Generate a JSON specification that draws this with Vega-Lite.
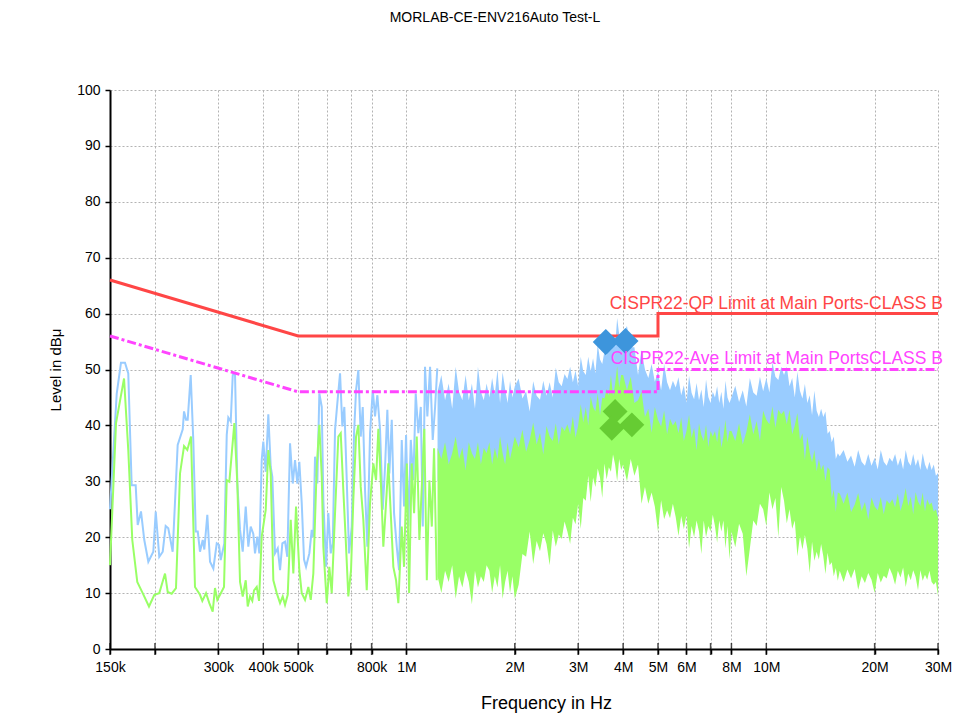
{
"$schema": "https://vega.github.io/schema/vega-lite/v6.json",
"width": 828, "height": 559,
"autosize": {"type": "none"},
"padding": {"left": 110, "top": 90, "right": 28, "bottom": 67},
"background": "white",
"title": {"text": "MORLAB-CE-ENV216Auto Test-L", "fontSize": 14, "fontWeight": "normal", "font": "Liberation Sans", "color": "#000", "anchor": "middle", "offset": 58, "dx": -29},
"datasets": {
"pk": [
{"f":0.15,"v":25},{"f":0.1566,"v":45.7},{"f":0.1609,"v":51.2},{"f":0.1651,"v":51.2},{"f":0.1686,"v":49.3},{"f":0.1723,"v":29.3},{"f":0.1768,"v":29.3},{"f":0.1791,"v":22.2},{"f":0.1829,"v":24.6},{"f":0.1868,"v":19.5},{"f":0.1917,"v":15.6},{"f":0.1979,"v":17.4},{"f":0.201,"v":24.6},{"f":0.2056,"v":16.5},{"f":0.2102,"v":17.4},{"f":0.2142,"v":22},{"f":0.2178,"v":21.6},{"f":0.224,"v":17.4},{"f":0.2313,"v":36.5},{"f":0.2389,"v":39.3},{"f":0.2409,"v":42.5},{"f":0.244,"v":41},{"f":0.2466,"v":41},{"f":0.2514,"v":49},{"f":0.2556,"v":37.4},{"f":0.2596,"v":21},{"f":0.263,"v":21},{"f":0.2668,"v":17.4},{"f":0.2715,"v":19.5},{"f":0.2743,"v":17.8},{"f":0.2796,"v":24},{"f":0.2845,"v":15.6},{"f":0.2906,"v":14.4},{"f":0.297,"v":18.9},{"f":0.3014,"v":18.6},{"f":0.3046,"v":15.9},{"f":0.3117,"v":18.9},{"f":0.3166,"v":38.3},{"f":0.3198,"v":41.4},{"f":0.3248,"v":40.7},{"f":0.329,"v":49},{"f":0.3338,"v":49.3},{"f":0.3388,"v":29.6},{"f":0.3447,"v":21.3},{"f":0.3507,"v":17.4},{"f":0.3575,"v":25.5},{"f":0.3635,"v":18.3},{"f":0.3691,"v":21.9},{"f":0.3753,"v":20.6},{"f":0.3794,"v":17.1},{"f":0.385,"v":20.1},{"f":0.39,"v":17.1},{"f":0.396,"v":33.8},{"f":0.4001,"v":37.1},{"f":0.4063,"v":31.7},{"f":0.4131,"v":42},{"f":0.4195,"v":32.6},{"f":0.4238,"v":30.8},{"f":0.4312,"v":17.1},{"f":0.4388,"v":18},{"f":0.4453,"v":14.1},{"f":0.4519,"v":18.9},{"f":0.4597,"v":19.2},{"f":0.4665,"v":16.5},{"f":0.4747,"v":36.8},{"f":0.483,"v":29.6},{"f":0.4901,"v":33.8},{"f":0.4974,"v":29.6},{"f":0.5038,"v":33.5},{"f":0.5116,"v":26.1},{"f":0.5192,"v":16},{"f":0.5259,"v":14.7},{"f":0.5371,"v":17.1},{"f":0.5454,"v":21.3},{"f":0.551,"v":20},{"f":0.557,"v":34.4},{"f":0.5653,"v":29.6},{"f":0.5726,"v":45.7},{"f":0.5815,"v":43.3},{"f":0.5874,"v":26.7},{"f":0.5977,"v":14.7},{"f":0.6065,"v":24.3},{"f":0.6159,"v":17.1},{"f":0.6239,"v":18.9},{"f":0.6331,"v":39.2},{"f":0.6425,"v":44},{"f":0.6537,"v":49.3},{"f":0.6634,"v":39.8},{"f":0.6719,"v":43.3},{"f":0.6824,"v":30.2},{"f":0.6925,"v":17.1},{"f":0.7045,"v":21.9},{"f":0.715,"v":38.6},{"f":0.7242,"v":46.3},{"f":0.7349,"v":49.9},{"f":0.7463,"v":38},{"f":0.7559,"v":43.3},{"f":0.7671,"v":28.4},{"f":0.7785,"v":18.3},{"f":0.7921,"v":38.6},{"f":0.8059,"v":46.3},{"f":0.8178,"v":41.6},{"f":0.83,"v":45.4},{"f":0.8444,"v":39.2},{"f":0.8592,"v":24.9},{"f":0.8719,"v":32.6},{"f":0.8848,"v":42.8},{"f":0.8962,"v":31.4},{"f":0.9101,"v":41},{"f":0.9236,"v":24.3},{"f":0.9397,"v":18.3},{"f":0.9536,"v":14.1},{"f":0.9702,"v":37.4},{"f":0.9846,"v":25.5},{"f":0.9973,"v":38.3},{"f":1.012,"v":21.9},{"f":1.028,"v":37.4},{"f":1.045,"v":30.2},{"f":1.061,"v":45.7},{"f":1.079,"v":38.6},{"f":1.096,"v":43.3},{"f":1.11,"v":21.9},{"f":1.126,"v":50.5},{"f":1.143,"v":41.6},{"f":1.163,"v":50.5},{"f":1.183,"v":37.4},{"f":1.201,"v":43.3},{"f":1.218,"v":50.2}
],
"av": [
{"f":0.15,"v":15},{"f":0.1559,"v":40.4},{"f":0.1641,"v":48.4},{"f":0.1686,"v":35.6},{"f":0.173,"v":19.5},{"f":0.1786,"v":12},{"f":0.1849,"v":10},{"f":0.1925,"v":7.6},{"f":0.1992,"v":9.7},{"f":0.2056,"v":10},{"f":0.2133,"v":13.5},{"f":0.217,"v":10.2},{"f":0.2226,"v":9.9},{"f":0.2288,"v":10.9},{"f":0.2348,"v":31.4},{"f":0.2409,"v":36.3},{"f":0.246,"v":35.6},{"f":0.2519,"v":38},{"f":0.2584,"v":11.1},{"f":0.2668,"v":9.7},{"f":0.2708,"v":8.6},{"f":0.2773,"v":10},{"f":0.2832,"v":8.2},{"f":0.2894,"v":6.7},{"f":0.2937,"v":10.9},{"f":0.2981,"v":8.8},{"f":0.3033,"v":9.7},{"f":0.3111,"v":11.1},{"f":0.3166,"v":30.2},{"f":0.3219,"v":29.9},{"f":0.3324,"v":40.4},{"f":0.3388,"v":29.6},{"f":0.3447,"v":12},{"f":0.3507,"v":9.4},{"f":0.3575,"v":12.3},{"f":0.3621,"v":7.6},{"f":0.3675,"v":9.4},{"f":0.3729,"v":8.6},{"f":0.377,"v":10.5},{"f":0.3836,"v":11.1},{"f":0.3893,"v":8.6},{"f":0.396,"v":20.1},{"f":0.4063,"v":24.9},{"f":0.4131,"v":35.6},{"f":0.4195,"v":31.4},{"f":0.4266,"v":12.3},{"f":0.436,"v":10},{"f":0.4453,"v":8.2},{"f":0.453,"v":9.4},{"f":0.4597,"v":7.9},{"f":0.4677,"v":9.7},{"f":0.4768,"v":23.1},{"f":0.4848,"v":13.5},{"f":0.4933,"v":25.5},{"f":0.5038,"v":14.1},{"f":0.5116,"v":10},{"f":0.5225,"v":8.8},{"f":0.5337,"v":11.1},{"f":0.542,"v":8.8},{"f":0.551,"v":13.5},{"f":0.5631,"v":32.6},{"f":0.5726,"v":40.1},{"f":0.5815,"v":30.8},{"f":0.5874,"v":18.3},{"f":0.6004,"v":8.2},{"f":0.6104,"v":14.7},{"f":0.6199,"v":10},{"f":0.6331,"v":24.3},{"f":0.6466,"v":38},{"f":0.6566,"v":38.6},{"f":0.6676,"v":28.4},{"f":0.678,"v":19.5},{"f":0.6893,"v":9.4},{"f":0.7013,"v":14.1},{"f":0.7117,"v":26.7},{"f":0.7242,"v":38},{"f":0.7349,"v":40.1},{"f":0.7463,"v":29},{"f":0.7588,"v":23.1},{"f":0.7755,"v":10.5},{"f":0.7921,"v":26.1},{"f":0.809,"v":33.2},{"f":0.8231,"v":30.2},{"f":0.8353,"v":39.4},{"f":0.8498,"v":29},{"f":0.8624,"v":18.3},{"f":0.8775,"v":26.1},{"f":0.8905,"v":33.2},{"f":0.9043,"v":24.3},{"f":0.9194,"v":14.7},{"f":0.9355,"v":12.3},{"f":0.9493,"v":8.2},{"f":0.9702,"v":21.9},{"f":0.9846,"v":14.7},{"f":1.002,"v":33.2},{"f":1.017,"v":10},{"f":1.034,"v":33.2},{"f":1.05,"v":24.3},{"f":1.068,"v":38},{"f":1.086,"v":19.5},{"f":1.103,"v":29},{"f":1.121,"v":39.4},{"f":1.139,"v":12.3},{"f":1.158,"v":30.2},{"f":1.176,"v":21.9},{"f":1.193,"v":35.9},{"f":1.214,"v":12.3}
],
"dense": [
{"f":1.22,"ph":46,"pl":30,"ah":36,"al":13},{"f":1.25,"ph":49,"pl":30,"ah":34,"al":10},{"f":1.28,"ph":44.5,"pl":30,"ah":37,"al":14},{"f":1.31,"ph":47.5,"pl":30,"ah":33,"al":12},{"f":1.34,"ph":43,"pl":30,"ah":35,"al":15},{"f":1.37,"ph":50.5,"pl":30,"ah":38,"al":9},{"f":1.4,"ph":46,"pl":30,"ah":34,"al":13},{"f":1.43,"ph":44.5,"pl":30,"ah":36,"al":11},{"f":1.46,"ph":49,"pl":30,"ah":32,"al":14},{"f":1.49,"ph":44.5,"pl":30,"ah":37,"al":12},{"f":1.52,"ph":47.5,"pl":30,"ah":35,"al":8},{"f":1.55,"ph":43,"pl":30,"ah":34,"al":14},{"f":1.58,"ph":50.5,"pl":30,"ah":37,"al":11},{"f":1.61,"ph":46,"pl":30,"ah":33,"al":13},{"f":1.64,"ph":44.5,"pl":30,"ah":36,"al":12},{"f":1.67,"ph":47.5,"pl":30,"ah":35,"al":15},{"f":1.7,"ph":45,"pl":30,"ah":37,"al":14},{"f":1.73,"ph":48.5,"pl":30,"ah":33,"al":10},{"f":1.76,"ph":45.5,"pl":30,"ah":36,"al":13},{"f":1.79,"ph":50,"pl":30,"ah":34,"al":11},{"f":1.82,"ph":44,"pl":30,"ah":38,"al":15},{"f":1.85,"ph":49.5,"pl":30,"ah":35,"al":9},{"f":1.88,"ph":46.5,"pl":30,"ah":33,"al":12},{"f":1.91,"ph":44,"pl":30,"ah":37,"al":14},{"f":1.94,"ph":48,"pl":30,"ah":34,"al":10},{"f":1.97,"ph":45,"pl":30,"ah":36,"al":13},
{"f":2.0,"ph":47,"pl":32,"ah":38,"al":9},{"f":2.05,"ph":48.4,"pl":32,"ah":36.1,"al":11.5},{"f":2.1,"ph":44.8,"pl":32,"ah":39.2,"al":17},{"f":2.15,"ph":46.1,"pl":32,"ah":35.3,"al":16.5},{"f":2.2,"ph":42.5,"pl":32,"ah":37.4,"al":21},{"f":2.25,"ph":47.9,"pl":32.5,"ah":40.5,"al":15.2},{"f":2.3,"ph":45.3,"pl":32.5,"ah":36.6,"al":19.3},{"f":2.35,"ph":44.6,"pl":32.5,"ah":38.7,"al":17.5},{"f":2.4,"ph":48,"pl":33,"ah":34.8,"al":20.7},{"f":2.45,"ph":45.3,"pl":33,"ah":39.9,"al":18.8},{"f":2.5,"ph":47.7,"pl":33,"ah":38,"al":15},{"f":2.55,"ph":45,"pl":33,"ah":37.2,"al":21.2},{"f":2.6,"ph":50.3,"pl":33.5,"ah":40.4,"al":18.3},{"f":2.65,"ph":47.7,"pl":33.5,"ah":36.6,"al":20.5},{"f":2.7,"ph":47,"pl":34,"ah":39.8,"al":19.7},{"f":2.75,"ph":49.2,"pl":34,"ah":39,"al":22.8},{"f":2.8,"ph":48.3,"pl":34,"ah":40.2,"al":21},{"f":2.85,"ph":50.5,"pl":34.5,"ah":38.4,"al":18.8},{"f":2.9,"ph":47.7,"pl":34.5,"ah":41.6,"al":23.5},{"f":2.95,"ph":49.8,"pl":35,"ah":37.8,"al":22.3},{"f":3.0,"ph":47,"pl":35,"ah":40,"al":26},{"f":3.05,"ph":52.3,"pl":35.5,"ah":43.8,"al":21.5},{"f":3.1,"ph":49.7,"pl":36.5,"ah":40.5,"al":27},{"f":3.15,"ph":49,"pl":37,"ah":43.3,"al":26.5},{"f":3.2,"ph":52.3,"pl":38,"ah":40,"al":31},{"f":3.25,"ph":49.7,"pl":38,"ah":45.2,"al":26.3},{"f":3.3,"ph":52,"pl":38,"ah":43.3,"al":30.7},{"f":3.35,"ph":49.3,"pl":38.5,"ah":42.5,"al":29},{"f":3.4,"ph":54.5,"pl":38.5,"ah":45.7,"al":32.3},{"f":3.45,"ph":51.8,"pl":39,"ah":41.8,"al":30.7},{"f":3.5,"ph":51,"pl":39,"ah":45,"al":27},{"f":3.55,"ph":53.3,"pl":40,"ah":44.8,"al":33.2},{"f":3.6,"ph":52.5,"pl":40.5,"ah":46.5,"al":30.3},{"f":3.65,"ph":55.4,"pl":41,"ah":45.3,"al":32.5},{"f":3.7,"ph":53.3,"pl":42,"ah":49,"al":31.7},{"f":3.75,"ph":56.1,"pl":42,"ah":45.2,"al":34.8},{"f":3.8,"ph":54,"pl":42,"ah":47.4,"al":33},{"f":3.85,"ph":59.2,"pl":42.5,"ah":50.6,"al":30},{"f":3.9,"ph":56.3,"pl":43,"ah":46.8,"al":34},{"f":3.95,"ph":55.5,"pl":43,"ah":49,"al":32},
{"f":4.0,"ph":56.5,"pl":43,"ah":49,"al":33},{"f":4.1,"ph":57.8,"pl":42,"ah":46.3,"al":30},{"f":4.2,"ph":54,"pl":41.5,"ah":48.7,"al":34},{"f":4.3,"ph":54,"pl":41,"ah":44,"al":31},{"f":4.4,"ph":49,"pl":39.5,"ah":44.5,"al":33},{"f":4.5,"ph":53.5,"pl":38,"ah":46,"al":26},{"f":4.6,"ph":50,"pl":37.5,"ah":41.5,"al":29},{"f":4.7,"ph":48.5,"pl":37,"ah":43,"al":26},{"f":4.8,"ph":51,"pl":36.5,"ah":38.7,"al":28},{"f":4.9,"ph":47.8,"pl":36,"ah":43.3,"al":25.5},{"f":5.0,"ph":49.6,"pl":36,"ah":41,"al":21},{"f":5.1,"ph":46.3,"pl":35.5,"ah":39.8,"al":26.6},{"f":5.2,"ph":51,"pl":35.5,"ah":42.6,"al":23.2},{"f":5.3,"ph":47.7,"pl":35,"ah":38.4,"al":24.8},{"f":5.4,"ph":46.3,"pl":35,"ah":41.2,"al":23.4},{"f":5.5,"ph":48,"pl":35,"ah":40,"al":26},{"f":5.6,"ph":46.8,"pl":35,"ah":40.8,"al":23.6},{"f":5.7,"ph":48.6,"pl":34.5,"ah":38.6,"al":20.2},{"f":5.8,"ph":45.4,"pl":34.5,"ah":41.4,"al":23.8},{"f":5.9,"ph":47.2,"pl":34,"ah":37.2,"al":21.4},{"f":6.0,"ph":44,"pl":34,"ah":39,"al":24},{"f":6.1,"ph":48.9,"pl":34,"ah":41.9,"al":18},{"f":6.2,"ph":45.8,"pl":33.5,"ah":37.8,"al":22},{"f":6.3,"ph":44.7,"pl":33.5,"ah":39.6,"al":20},{"f":6.4,"ph":47.6,"pl":33.5,"ah":35.5,"al":23},{"f":6.5,"ph":44.5,"pl":33.5,"ah":40.4,"al":21},{"f":6.6,"ph":46.4,"pl":33,"ah":38.3,"al":17},{"f":6.7,"ph":43.3,"pl":33,"ah":37.2,"al":23},{"f":6.8,"ph":48.2,"pl":33,"ah":40.1,"al":20},{"f":6.9,"ph":45.1,"pl":33,"ah":36.1,"al":22},{"f":7.0,"ph":44,"pl":33,"ah":39,"al":21},{"f":7.1,"ph":46,"pl":33,"ah":38,"al":24},{"f":7.2,"ph":45,"pl":33,"ah":39,"al":22},{"f":7.3,"ph":47,"pl":33,"ah":37,"al":19},{"f":7.4,"ph":44,"pl":33,"ah":40,"al":23},{"f":7.5,"ph":46,"pl":33,"ah":36,"al":21},{"f":7.6,"ph":43,"pl":33,"ah":38,"al":23},{"f":7.7,"ph":48,"pl":33,"ah":41,"al":18},{"f":7.8,"ph":45,"pl":33,"ah":37,"al":22},{"f":7.9,"ph":44,"pl":33,"ah":39,"al":16},
{"f":8.0,"ph":45,"pl":33,"ah":39,"al":21},{"f":8.2,"ph":47.1,"pl":33,"ah":37.2,"al":18.2},{"f":8.4,"ph":44.2,"pl":33.5,"ah":40.4,"al":22.4},{"f":8.6,"ph":46.3,"pl":33.5,"ah":36.6,"al":20.6},{"f":8.8,"ph":43.4,"pl":33.5,"ah":38.8,"al":13},{"f":9.0,"ph":48.5,"pl":34,"ah":42,"al":18},{"f":9.2,"ph":45.9,"pl":34.5,"ah":38.4,"al":23},{"f":9.4,"ph":45.3,"pl":35,"ah":40.8,"al":22},{"f":9.6,"ph":48.7,"pl":35,"ah":37.2,"al":26},{"f":9.8,"ph":46.1,"pl":35.5,"ah":42.6,"al":25},{"f":10.0,"ph":48.5,"pl":36,"ah":41,"al":22},{"f":10.2,"ph":45.9,"pl":36,"ah":40.2,"al":28},{"f":10.4,"ph":51.3,"pl":36.5,"ah":43.4,"al":25},{"f":10.6,"ph":48.7,"pl":36.5,"ah":39.6,"al":27},{"f":10.8,"ph":48.1,"pl":37,"ah":42.8,"al":20},{"f":11.0,"ph":50.5,"pl":37,"ah":42,"al":29},{"f":11.2,"ph":49,"pl":36.5,"ah":42.6,"al":26.5},{"f":11.4,"ph":50.5,"pl":36,"ah":40.2,"al":22.5},{"f":11.6,"ph":47,"pl":36,"ah":42.8,"al":25},{"f":11.8,"ph":48.5,"pl":35.5,"ah":38.4,"al":21.5},{"f":12.0,"ph":45,"pl":35,"ah":40,"al":23},{"f":12.2,"ph":49.6,"pl":34,"ah":42.2,"al":16.6},{"f":12.4,"ph":46.2,"pl":33.5,"ah":37.4,"al":20.2},{"f":12.6,"ph":44.8,"pl":32.5,"ah":38.6,"al":17.8},{"f":12.8,"ph":47.4,"pl":32,"ah":33.8,"al":20.4},{"f":13.0,"ph":44,"pl":31,"ah":38,"al":18},{"f":13.2,"ph":45.4,"pl":30,"ah":35.2,"al":13.6},{"f":13.4,"ph":41.8,"pl":29.5,"ah":33.4,"al":19.2},{"f":13.6,"ph":46.2,"pl":28.5,"ah":35.6,"al":15.8},{"f":13.8,"ph":42.6,"pl":28,"ah":31.8,"al":17.4},{"f":14.0,"ph":41.5,"pl":27.5,"ah":34,"al":16},{"f":14.2,"ph":43,"pl":27,"ah":32,"al":18.8},{"f":14.4,"ph":41.5,"pl":26.5,"ah":33,"al":16.6},{"f":14.6,"ph":42.5,"pl":26,"ah":30,"al":13.4},{"f":14.8,"ph":38.5,"pl":25.5,"ah":32.5,"al":17.2},{"f":15.0,"ph":39,"pl":25,"ah":32,"al":15},{"f":15.2,"ph":37,"pl":24,"ah":27,"al":15.5},{"f":15.4,"ph":38,"pl":23.5,"ah":28.5,"al":13},{"f":15.6,"ph":34,"pl":23,"ah":24.5,"al":14.5},{"f":15.8,"ph":35,"pl":22.5,"ah":28,"al":12.2},
{"f":16.0,"ph":34.5,"pl":21.5,"ah":27.8,"al":14},{"f":16.4,"ph":35.6,"pl":21.5,"ah":26,"al":12},{"f":16.8,"ph":33.5,"pl":21,"ah":28,"al":14.2},{"f":17.2,"ph":34.6,"pl":21,"ah":24.5,"al":12.6},{"f":17.6,"ph":32.6,"pl":21,"ah":25.8,"al":14.3},{"f":18.0,"ph":35.6,"pl":21,"ah":27.9,"al":10.6},{"f":18.4,"ph":33.5,"pl":21,"ah":24.7,"al":13},{"f":18.8,"ph":32.8,"pl":21,"ah":26.3,"al":11.8},{"f":19.2,"ph":34.9,"pl":21,"ah":23.1,"al":13.6},{"f":19.6,"ph":32.8,"pl":21,"ah":27.1,"al":12.4},{"f":20.0,"ph":34.2,"pl":21,"ah":25.5,"al":10},{"f":20.4,"ph":32.1,"pl":21,"ah":24.8,"al":13.6},{"f":20.8,"ph":35.6,"pl":21,"ah":27.2,"al":11.9},{"f":21.2,"ph":33.5,"pl":21,"ah":24.1,"al":13.1},{"f":21.6,"ph":32.8,"pl":21,"ah":26.6,"al":12.6},{"f":22.0,"ph":34.2,"pl":21,"ah":26,"al":14.5},{"f":22.4,"ph":33.5,"pl":21,"ah":26.8,"al":13.3},{"f":22.8,"ph":34.9,"pl":21,"ah":25.3,"al":11.5},{"f":23.2,"ph":32.8,"pl":21,"ah":27.8,"al":14},{"f":23.6,"ph":34.2,"pl":21,"ah":24.7,"al":12.8},{"f":24.0,"ph":32.1,"pl":21,"ah":26.4,"al":14.6},{"f":24.4,"ph":35.6,"pl":21,"ah":28.8,"al":11.1},{"f":24.8,"ph":33.5,"pl":21,"ah":25.6,"al":13.5},{"f":25.2,"ph":32.8,"pl":21,"ah":27.3,"al":12.3},{"f":25.6,"ph":34.9,"pl":21,"ah":24.1,"al":14.1},{"f":26.0,"ph":32.8,"pl":21,"ah":28.1,"al":12.9},{"f":26.4,"ph":34,"pl":21,"ah":26.4,"al":10.5},{"f":26.8,"ph":32,"pl":21,"ah":25.6,"al":14.1},{"f":27.2,"ph":35,"pl":21,"ah":28,"al":12.2},{"f":27.6,"ph":33,"pl":21,"ah":24.6,"al":13.3},{"f":28.0,"ph":32,"pl":21,"ah":26.8,"al":12.4},{"f":28.4,"ph":33.5,"pl":21,"ah":25.8,"al":14},{"f":28.8,"ph":32,"pl":21,"ah":26.2,"al":12},{"f":29.2,"ph":33,"pl":21,"ah":24.6,"al":11.5},{"f":29.6,"ph":31,"pl":20,"ah":25,"al":12},{"f":30.0,"ph":31.5,"pl":20,"ah":23.5,"al":9.5}
],
"qp": [{"i":0,"f":0.15,"v":66},{"i":1,"f":0.5,"v":56},{"i":2,"f":5,"v":56},{"i":3,"f":5,"v":60},{"i":4,"f":30,"v":60}],
"avl": [{"i":0,"f":0.15,"v":56},{"i":1,"f":0.5,"v":46},{"i":2,"f":5,"v":46},{"i":3,"f":5,"v":50},{"i":4,"f":30,"v":50}],
"pkm": [{"f":3.58,"v":54.9},{"f":4.06,"v":55.1}],
"avm": [{"f":3.8,"v":42.5},{"f":3.72,"v":39.5},{"f":4.23,"v":40.1}],
"qplab": [{"f":30,"v":61.7,"t":"CISPR22-QP Limit at Main Ports-CLASS B"}],
"avlab": [{"f":30,"v":51.9,"t":"CISPR22-Ave Limit at Main PortsCLASS B"}],
"yt": [{"v":0},{"v":5},{"v":10},{"v":15},{"v":20},{"v":25},{"v":30},{"v":35},{"v":40},{"v":45},{"v":50},{"v":55},{"v":60},{"v":65},{"v":70},{"v":75},{"v":80},{"v":85},{"v":90},{"v":95},{"v":100}],
"xt": [{"f":0.15},{"f":0.2},{"f":0.3},{"f":0.4},{"f":0.5},{"f":0.6},{"f":0.7},{"f":0.8},{"f":1},{"f":2},{"f":3},{"f":4},{"f":5},{"f":6},{"f":7},{"f":8},{"f":10},{"f":20},{"f":30}]
},
"encoding": {
"x": {"field": "f", "type": "quantitative", "scale": {"type": "log", "domain": [0.15, 30], "nice": false},
 "axis": {"values": [0.15,0.2,0.3,0.4,0.5,0.6,0.7,0.8,1,2,3,4,5,6,7,8,10,20,30],
  "labelExpr": "indexof([0.2,0.6,0.7,7], datum.value) >= 0 ? '' : (datum.value < 1 ? format(datum.value*1000,'d') + 'k' : format(datum.value,'d') + 'M')",
  "title": "Frequency in Hz", "titleX": 436, "titleY": 54, "titleBaseline": "middle", "titleAlign": "center", "grid": true}}
},
"layer": [
{"data": {"name": "dense"}, "mark": {"type": "area", "color": "#99ccff", "opacity": 1},
 "encoding": {"y": {"field": "ph", "type": "quantitative", "scale": {"domain": [0, 100], "nice": false},
   "axis": {"values": [0,5,10,15,20,25,30,35,40,45,50,55,60,65,70,75,80,85,90,95,100], "labelExpr": "datum.value % 10 == 0 ? datum.label : ''", "title": "Level in dBμ", "grid": true, "titleX": -55, "titleY": 279.5, "titleAngle": -90, "titleBaseline": "middle", "titleAlign": "center"}},
  "y2": {"field": "pl"}}},
{"data": {"name": "pk"}, "mark": {"type": "line", "color": "#99ccff", "strokeWidth": 2},
 "encoding": {"y": {"field": "v", "type": "quantitative"}}},
{"data": {"name": "dense"}, "mark": {"type": "area", "color": "#99ff66", "opacity": 1},
 "encoding": {"y": {"field": "ah", "type": "quantitative"}, "y2": {"field": "al"}}},
{"data": {"name": "av"}, "mark": {"type": "line", "color": "#99ff66", "strokeWidth": 2},
 "encoding": {"y": {"field": "v", "type": "quantitative"}}},
{"data": {"name": "qp"}, "mark": {"type": "line", "color": "#ff4646", "strokeWidth": 3},
 "encoding": {"y": {"field": "v", "type": "quantitative"}, "order": {"field": "i"}}},
{"data": {"name": "avl"}, "mark": {"type": "line", "color": "#ff44ff", "strokeWidth": 3, "strokeDash": [9, 3, 3, 3]},
 "encoding": {"y": {"field": "v", "type": "quantitative"}, "order": {"field": "i"}}},
{"data": {"name": "pkm"}, "mark": {"type": "point", "shape": "diamond", "filled": true, "size": 680, "color": "#3d95dc", "opacity": 1},
 "encoding": {"y": {"field": "v", "type": "quantitative"}}},
{"data": {"name": "avm"}, "mark": {"type": "point", "shape": "diamond", "filled": true, "size": 620, "color": "#66cc33", "opacity": 1},
 "encoding": {"y": {"field": "v", "type": "quantitative"}}},
{"data": {"name": "qplab"}, "mark": {"type": "text", "align": "right", "baseline": "middle", "fontSize": 17.5, "font": "Liberation Sans", "dx": 5, "color": "#ff4646"},
 "encoding": {"y": {"field": "v", "type": "quantitative"}, "text": {"field": "t"}}},
{"data": {"name": "avlab"}, "mark": {"type": "text", "align": "right", "baseline": "middle", "fontSize": 17.5, "font": "Liberation Sans", "dx": 5, "color": "#ff44ff"},
 "encoding": {"y": {"field": "v", "type": "quantitative"}, "text": {"field": "t"}}},
{"data": {"name": "yt"}, "mark": {"type": "tick", "orient": "horizontal", "size": 12, "thickness": 1.5, "color": "#000"},
 "encoding": {"x": {"datum": 0.15}, "y": {"field": "v", "type": "quantitative"}}},
{"data": {"name": "xt"}, "mark": {"type": "tick", "orient": "vertical", "size": 12, "thickness": 1.5, "color": "#000"},
 "encoding": {"y": {"datum": 0}}}
],
"config": {
"view": {"stroke": null},
"font": "Liberation Sans",
"axis": {"domainColor": "#000", "domainWidth": 2, "tickColor": "#000", "tickWidth": 1.5, "tickSize": 5,
 "labelFont": "Liberation Sans", "labelFontSize": 14, "labelColor": "#000", "labelOverlap": false, "labelFlush": false,
 "titleFont": "Liberation Sans", "titleFontWeight": "normal", "titleColor": "#000",
 "gridColor": "#b3b3b3", "gridDash": [2, 2], "gridWidth": 1, "labelPadding": 5},
"axisX": {"titleFontSize": 18, "labelPadding": 6},
"axisY": {"titleFontSize": 15}
}
}
